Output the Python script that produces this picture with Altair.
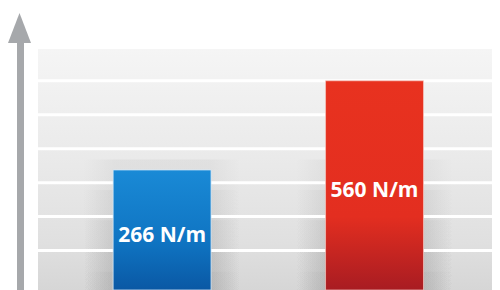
import altair as alt
import pandas as pd

# ---- data ----
labels = ["266 N/m", "560 N/m"]
values = [266, 560]
grid_values = [0, 112, 224, 336, 448, 560]

# ---- layout constants ----
W, H = 454, 282
Y_MIN, Y_MAX = -130, 800
PANEL_TOP = 665
SHADOW_TOPS = [300, 200, 100, 0, -70]
ARROW = "#a6a8ab"

bars = pd.DataFrame({"label": labels, "value": values, "idx": list(range(len(labels)))})
grid = pd.DataFrame({"g": grid_values})
one = pd.DataFrame({"top": [PANEL_TOP]})

yscale = alt.Scale(domain=[Y_MIN, Y_MAX], nice=False, zero=False)
xscale = alt.Scale(domain=labels, paddingInner=0.539, paddingOuter=0.338, align=0.523)


def grad(stops, horizontal=False):
    return alt.LinearGradient(
        gradient="linear",
        stops=[alt.GradientStop(offset=o, color=c) for o, c in stops],
        x1=0, y1=0,
        x2=1 if horizontal else 0,
        y2=0 if horizontal else 1,
    )


panel = alt.Chart(one).mark_rect(
    color=grad([(0, "#f5f5f5"), (0.45, "#eaeaea"), (0.8, "#e0e0e0"), (1, "#d6d6d6")])
).encode(
    x=alt.value(0), x2=alt.value(W),
    y=alt.Y("top:Q", scale=yscale, axis=None),
    y2=alt.datum(Y_MIN),
)

shadows = []
for top in SHADOW_TOPS:
    sh = alt.Chart(bars).transform_calculate(stop=f"{top}").mark_bar(
        width={"band": 1.6},
        color=grad([(0, "rgba(130,130,130,0)"), (0.2, "rgba(130,130,130,0.09)"),
                    (0.8, "rgba(130,130,130,0.09)"), (1, "rgba(130,130,130,0)")],
                   horizontal=True),
    ).encode(
        x=alt.X("label:N", scale=xscale, axis=None, sort=labels),
        y=alt.Y("stop:Q", scale=yscale, axis=None),
        y2=alt.datum(Y_MIN),
    )
    shadows.append(sh)

lines = alt.Chart(grid).mark_rule(color="white", strokeWidth=3).encode(
    y=alt.Y("g:Q", scale=yscale, axis=None),
    x=alt.value(0), x2=alt.value(W),
)

bar_enc = dict(
    x=alt.X("label:N", scale=xscale, axis=None, sort=labels),
    y=alt.Y("value:Q", scale=yscale, axis=None),
    y2=alt.datum(Y_MIN),
)

blue = alt.Chart(bars).transform_filter("datum.idx == 0").mark_bar(
    color=grad([(0, "#1a8ad6"), (0.6, "#0f74c2"), (1, "#0a58a4")]),
    stroke="#d6e9f7", strokeWidth=1, strokeOpacity=0.8,
).encode(**bar_enc)

red = alt.Chart(bars).transform_filter("datum.idx == 1").mark_bar(
    color=grad([(0, "#e8321f"), (0.65, "#e32e20"), (1, "#a81c22")]),
    stroke="#f6c9c3", strokeWidth=1, strokeOpacity=0.7,
).encode(**bar_enc)

text = alt.Chart(bars).transform_calculate(
    mid=f"(datum.value + ({Y_MIN})) / 2"
).mark_text(
    color="white", font="Open Sans", fontWeight="bold", fontSize=21,
    baseline="middle", align="center", dy=6,
).encode(
    x=alt.X("label:N", scale=xscale, axis=None, sort=labels),
    y=alt.Y("mid:Q", scale=yscale, axis=None),
    text="label:N",
)

shaft = alt.Chart(one).mark_rule(color=ARROW, strokeWidth=7).encode(
    x=alt.value(-17.5), y=alt.value(30), y2=alt.value(H)
)

head = alt.Chart(one).mark_point(
    shape="M0,-1.3L1,1.3L-1,1.3Z", size=529, filled=True,
    color=ARROW, opacity=1, strokeWidth=0,
).encode(x=alt.value(-18.5), y=alt.value(20))

chart = alt.layer(panel, *shadows, lines, blue, red, text, shaft, head).properties(
    width=W, height=H,
    padding={"left": 30, "top": 0, "right": 0, "bottom": 0},
    autosize="none",
    background="white",
).configure_view(stroke=None)

chart.save("out.html", embed_options={"renderer": "svg", "actions": False})
